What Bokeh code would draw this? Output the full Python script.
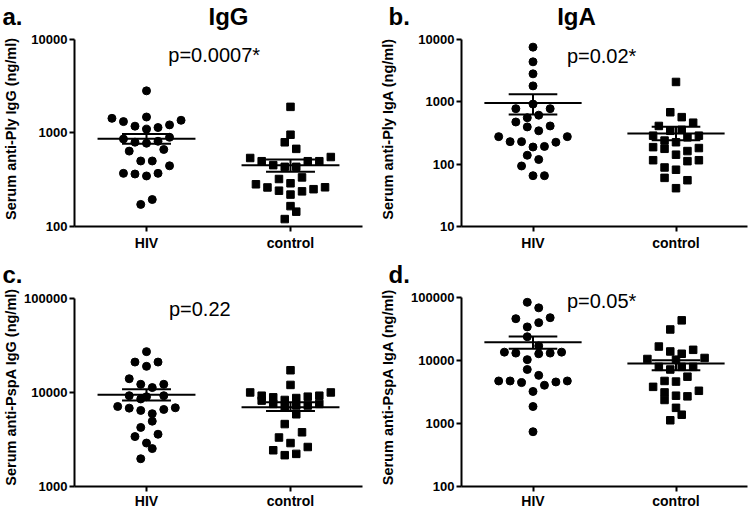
import math
from bokeh.plotting import figure
from bokeh.layouts import column, row
from bokeh.models import FixedTicker, Label, Range1d
from bokeh.embed import file_html
from bokeh.resources import INLINE

FONT = "Liberation Sans"
categories = ["HIV", "control"]

# ---------------- data ----------------
# a. anti-Ply IgG
a_hiv_vals = [2800, 1425, 1315, 1472, 1358, 1175, 1093, 1137, 1213, 858, 793, 773, 811,
              894, 637, 663, 500, 500, 444, 369, 363, 346, 369, 194, 172]
a_hiv_slot = [0, -6, -4, 0, 6, -2, 0, 2, 4, -4, -2, 0, 2, 4, -3, 3, -1, 1, 4, -4, -2, 0, 2, 1, -1]
a_ctl_vals = [1888, 953, 791, 673, 538, 551, 497, 497, 497, 451, 433, 433, 321, 334, 282,
              261, 289, 241, 219, 237, 250, 262, 165, 144, 120]
a_ctl_slot = [0, 0, -1, 1, -7, 7, -5, 3, 5, -3, -1, 1, -2, 2, -6, -4, 0, -2, 0, 2, 4, 6, 0, 1, -1]
a_mean = [865, 451]
a_sem_hi = [968, 517]
a_sem_lo = [761, 384]

# b. anti-Ply IgA
b_hiv_vals = [7413, 4315, 2771, 1778, 908, 768, 768, 550, 604, 470, 392, 340, 406, 274, 274,
              228, 228, 187, 191, 223, 138, 118, 93, 65, 65]
b_hiv_slot = [0, 0, 0, 0, 0, -3, 3, -1, 1, -3, -1, 1, 3, -6, 6, -4, -2, 0, 2, 4, -1, 1, -2, 0, 2]
b_ctl_vals = [2054, 673, 562, 458, 406, 340, 352, 284, 284, 237, 267, 223, 186, 175, 180,
              141, 161, 115, 111, 115, 88, 81, 60, 55, 41]
b_ctl_slot = [0, -1, 1, 3, -3, -1, 1, -4, 4, -2, 2, 0, -4, -2, 4, 0, 2, -4, 2, 4, -2, 0, -2, 2, 0]
b_mean = [942, 308]
b_sem_hi = [1302, 395]
b_sem_lo = [619, 240]

# c. anti-PspA IgG
c_hiv_vals = [27160, 21040, 21040, 18960, 13990, 12210, 11270, 12210, 9232, 8523, 9000, 9232,
              7092, 6810, 6436, 5943, 6592, 6868, 4946, 4246, 3395, 3594, 2897, 2530, 1973]
c_hiv_slot = [0, -2, 2, 0, -3, -1, 1, 3, -3, -1, 0, 3, -5, -3, -1, 1, 3, 5, 1, -1, -2, 2, 0, 1, -1]
c_ctl_vals = [17220, 12020, 10000, 10000, 9230, 8870, 8320, 8720, 9020, 9230, 8190, 7550, 6980,
              7260, 7260, 7550, 5860, 4610, 3770, 3318, 2897, 2630, 2428, 2153, 2222]
c_ctl_slot = [0, 0, -7, 7, -5, -3, -1, 1, 3, 5, -5, -3, -1, 1, 3, 5, 1, -1, 2, -2, 0, 3, -3, -1, 1]
c_mean = [9457, 6980]
c_sem_hi = [10833, 7870]
c_sem_lo = [8188, 6340]

# d. anti-PspA IgA
d_hiv_vals = [84500, 68950, 46420, 48100, 34360, 40170, 23990, 17150, 13650, 13180, 12850, 13180,
              13650, 10370, 7230, 5834, 4752, 4752, 4474, 4063, 4582, 4752, 3237, 1866, 742]
d_hiv_slot = [-1, 1, -3, 3, -1, 1, -1, 1, -5, -3, 1, 3, 5, -1, -1, 1, -6, -4, -2, 2, 4, 6, 0, 0, 0]
d_ctl_vals = [43650, 31260, 16750, 13990, 12860, 14850, 10620, 11020, 10370, 7960, 7230, 7960,
              7960, 5560, 4752, 4645, 3831, 3318, 3128, 2371, 2773, 2705, 1778, 1383, 1128]
d_ctl_slot = [1, -1, -3, -1, 1, 3, -5, 5, 0, -3, -1, 1, 3, 2, -2, 0, -4, 4, -2, -2, 0, 2, 0, 1, -1]
d_mean = [19570, 8980]
d_sem_hi = [24280, 10110]
d_sem_lo = [15400, 7065]

# ---------------- layout constants ----------------
SLOT = 0.04      # horizontal jitter step (data units)
MEAN_HW = 0.34   # half width of mean line
SEM_HW = 0.17    # half width of SEM caps
HEADER_H = [31, 32]
PANEL_H = [224, 224]


def log_end(top, bottom, frame_h, pad):
    dec = math.log10(top) - math.log10(bottom)
    ppd = (frame_h - pad) / dec
    return 10 ** (math.log10(top) + pad / ppd)


def make_header(items, height):
    h = figure(width=750, height=height, x_range=Range1d(0, 750), y_range=Range1d(0, height),
               output_backend="svg", toolbar_location=None,
               x_axis_location=None, y_axis_location=None)
    h.min_border_left = h.min_border_right = h.min_border_top = h.min_border_bottom = 0
    h.outline_line_color = None
    h.xgrid.visible = False
    h.ygrid.visible = False
    h.background_fill_color = "white"
    h.border_fill_color = "white"
    for (txt, x, y_from_top, align) in items:
        h.add_layout(Label(x=x, y=height - y_from_top, text=txt, text_align=align,
                           text_baseline="alphabetic",
                           text_font=FONT, text_font_style="bold", text_font_size="24px",
                           text_color="black"))
    return h


def make_panel(ylabel, yticks, ytick_labels,
               hiv_vals, hiv_slot, ctl_vals, ctl_slot, mean, hi, lo,
               ptext, px, py, left_col, top_row, label_standoff, pad):
    width = 375
    height = PANEL_H[0] if top_row else PANEL_H[1]
    p_bottom = 29 if top_row else 23
    frame_h = height - p_bottom
    y_lo, y_hi = yticks[0], yticks[-1]
    p = figure(width=width, height=height,
               x_range=Range1d(0.5, 2.5),
               y_range=Range1d(y_lo, log_end(y_hi, y_lo, frame_h, pad)),
               y_axis_type="log", output_backend="svg", toolbar_location=None)
    p.min_border_left = 73 if left_col else 86
    p.min_border_right = 13 if left_col else 3
    p.min_border_top = 0
    p.min_border_bottom = p_bottom
    p.background_fill_color = "white"
    p.border_fill_color = "white"
    p.outline_line_color = None
    p.xgrid.visible = False
    p.ygrid.visible = False

    # axes
    p.xaxis.ticker = FixedTicker(ticks=[1, 2])
    p.xaxis.major_label_overrides = {1: categories[0], 2: categories[1]}
    p.yaxis.ticker = FixedTicker(ticks=yticks)
    p.yaxis.major_label_overrides = {t: s for t, s in zip(yticks, ytick_labels)}
    p.yaxis.bounds = (y_lo, y_hi)
    for ax in (p.xaxis, p.yaxis):
        ax.axis_line_width = 2
        ax.axis_line_color = "black"
        ax.major_tick_line_width = 2
        ax.major_tick_line_color = "black"
        ax.major_tick_out = 5
        ax.major_tick_in = 0
        ax.minor_tick_line_color = None
        ax.major_label_text_font = FONT
        ax.major_label_text_font_style = "bold"
        ax.major_label_text_color = "black"
    p.xaxis.major_label_standoff = 3 if top_row else 1
    p.yaxis.major_label_standoff = 2
    p.xaxis.major_label_text_font_size = "14px"
    p.yaxis.major_label_text_font_size = "13px"
    p.yaxis.axis_label = ylabel
    p.yaxis.axis_label_text_font = FONT
    p.yaxis.axis_label_text_font_style = "bold"
    p.yaxis.axis_label_text_font_size = "14.5px"
    p.yaxis.axis_label_text_color = "black"
    p.yaxis.axis_label_standoff = label_standoff

    # points
    hx = [1 + s * SLOT for s in hiv_slot]
    cx = [2 + s * SLOT for s in ctl_slot]
    p.scatter(x=hx, y=hiv_vals, marker="circle", size=8,
              fill_color="black", line_color="black")
    p.scatter(x=cx, y=ctl_vals, marker="square", size=7.5,
              fill_color="black", line_color="black")

    # mean and SEM
    xs = [1, 2]
    p.segment(x0=[x - MEAN_HW for x in xs], x1=[x + MEAN_HW for x in xs],
              y0=mean, y1=mean, line_color="black", line_width=2)
    p.segment(x0=[x - SEM_HW for x in xs], x1=[x + SEM_HW for x in xs],
              y0=hi, y1=hi, line_color="black", line_width=2)
    p.segment(x0=[x - SEM_HW for x in xs], x1=[x + SEM_HW for x in xs],
              y0=lo, y1=lo, line_color="black", line_width=2)
    p.segment(x0=xs, x1=xs, y0=lo, y1=hi, line_color="black", line_width=2)

    p.add_layout(Label(x=px, y=py, text=ptext, text_align="center",
                       text_baseline="alphabetic", text_font=FONT,
                       text_font_size="20px", text_color="black"))
    return p


head_top = make_header([("a.", 2, 16.3, "left"), ("IgG", 228, 16.0, "center"),
                        ("b.", 388, 16.3, "left"), ("IgA", 576, 16.0, "center")], HEADER_H[0])
head_bot = make_header([("c.", 2, 18.5, "left"), ("d.", 388, 18.5, "left")], HEADER_H[1])

pa = make_panel("Serum anti-Ply IgG (ng/ml)", [100, 1000, 10000], ["100", "1000", "10000"],
                a_hiv_vals, a_hiv_slot, a_ctl_vals, a_ctl_slot, a_mean, a_sem_hi, a_sem_lo,
                "p=0.0007*", 1.47, 6700, True, True, 9, 7.5)
pb = make_panel("Serum anti-Ply IgA (ng/ml)", [10, 100, 1000, 10000], ["10", "100", "1000", "10000"],
                b_hiv_vals, b_hiv_slot, b_ctl_vals, b_ctl_slot, b_mean, b_sem_hi, b_sem_lo,
                "p=0.02*", 1.48, 5350, False, True, 19, 7.5)
pc = make_panel("Serum anti-PspA IgG (ng/ml)", [1000, 10000, 100000], ["1000", "10000", "100000"],
                c_hiv_vals, c_hiv_slot, c_ctl_vals, c_ctl_slot, c_mean, c_sem_hi, c_sem_lo,
                "p=0.22", 1.37, 77100, True, False, 2, 11)
pd_ = make_panel("Serum anti-PspA IgA (ng/ml)", [100, 1000, 10000, 100000],
                 ["100", "1000", "10000", "100000"],
                 d_hiv_vals, d_hiv_slot, d_ctl_vals, d_ctl_slot, d_mean, d_sem_hi, d_sem_lo,
                 "p=0.05*", 1.48, 89100, False, False, 12, 10.3)

layout = column(head_top, row(pa, pb), head_bot, row(pc, pd_))
open("out.html", "w").write(file_html(layout, INLINE))
